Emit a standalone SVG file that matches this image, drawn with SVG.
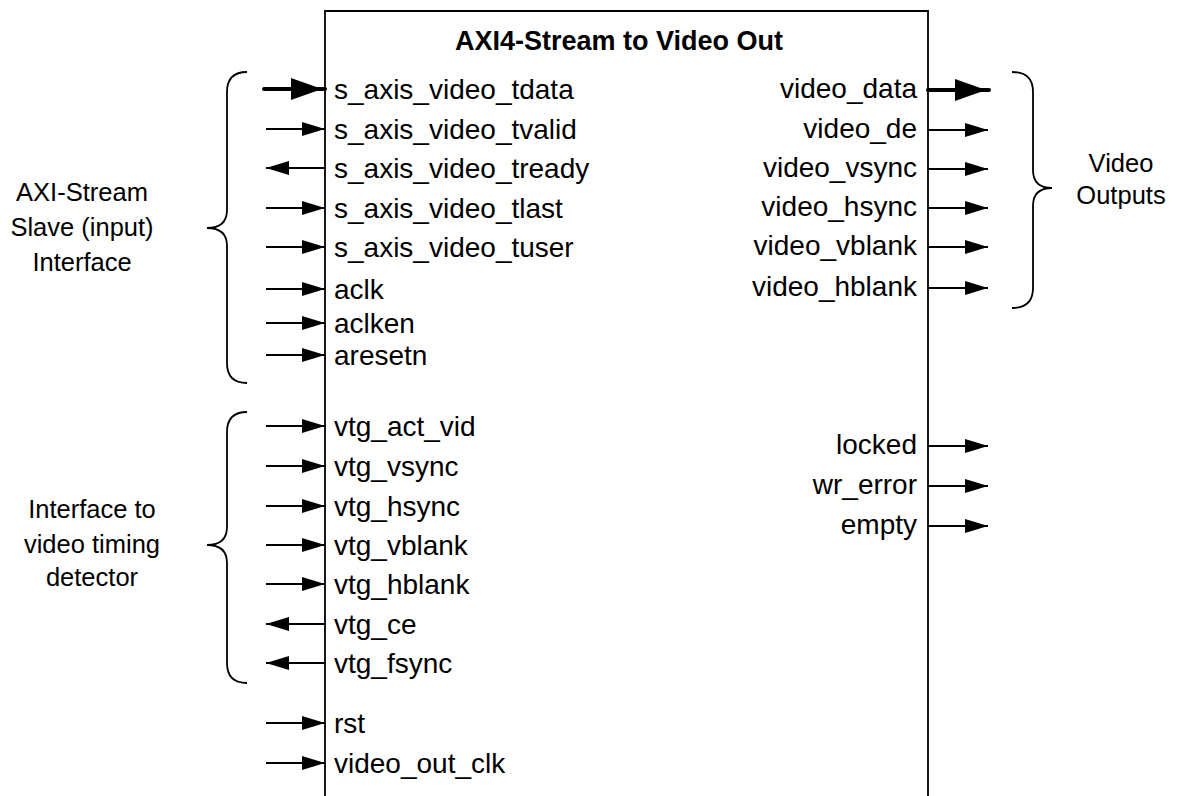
<svg xmlns="http://www.w3.org/2000/svg" width="1187" height="796" viewBox="0 0 1187 796">
<style>
  .port{font-family:"Liberation Sans",Arial,sans-serif;font-size:28px;fill:#000}
  .r{text-anchor:end}
  .lbl{font-family:"Liberation Sans",Arial,sans-serif;font-size:25.5px;fill:#000;text-anchor:middle}
  .title{font-family:"Liberation Sans",Arial,sans-serif;font-size:27px;font-weight:bold;fill:#000;text-anchor:middle}
  .w{stroke:#000;stroke-width:1.8;fill:none}
  .bus{stroke:#000;stroke-width:4;fill:none;stroke-linecap:round}
  .brace{stroke:#000;stroke-width:1.8;fill:none}
</style>
<defs>
  <marker id="ah" markerUnits="userSpaceOnUse" viewBox="0 0 23 14" refX="23" refY="7" markerWidth="23" markerHeight="14" orient="auto">
    <path d="M0,0 L23,7 L0,14 z" fill="#000"/>
  </marker>
  <marker id="ahb" markerUnits="userSpaceOnUse" viewBox="0 0 34 22" refX="34" refY="11" markerWidth="34" markerHeight="22" orient="auto">
    <path d="M0,0 L31,11 L0,22 z" fill="#000"/>
  </marker>
</defs>
<rect width="1187" height="796" fill="#fff"/>

<g id="block">
  <path d="M325,800 L325,11 L928,11 L928,800" class="w"/>
  <text x="619" y="50" class="title">AXI4-Stream to Video Out</text>
</g>

<g id="connectors">
  <line x1="264" y1="89" x2="325" y2="89" class="bus" marker-end="url(#ahb)"/>
  <line x1="266" y1="129" x2="325" y2="129" class="w" marker-end="url(#ah)"/>
  <line x1="325" y1="168" x2="266" y2="168" class="w" marker-end="url(#ah)"/>
  <line x1="266" y1="208" x2="325" y2="208" class="w" marker-end="url(#ah)"/>
  <line x1="266" y1="247" x2="325" y2="247" class="w" marker-end="url(#ah)"/>
  <line x1="266" y1="289" x2="325" y2="289" class="w" marker-end="url(#ah)"/>
  <line x1="266" y1="323" x2="325" y2="323" class="w" marker-end="url(#ah)"/>
  <line x1="266" y1="355" x2="325" y2="355" class="w" marker-end="url(#ah)"/>
  <line x1="266" y1="426" x2="325" y2="426" class="w" marker-end="url(#ah)"/>
  <line x1="266" y1="466" x2="325" y2="466" class="w" marker-end="url(#ah)"/>
  <line x1="266" y1="506" x2="325" y2="506" class="w" marker-end="url(#ah)"/>
  <line x1="266" y1="545" x2="325" y2="545" class="w" marker-end="url(#ah)"/>
  <line x1="266" y1="584" x2="325" y2="584" class="w" marker-end="url(#ah)"/>
  <line x1="325" y1="624" x2="266" y2="624" class="w" marker-end="url(#ah)"/>
  <line x1="325" y1="663" x2="266" y2="663" class="w" marker-end="url(#ah)"/>
  <line x1="266" y1="723" x2="325" y2="723" class="w" marker-end="url(#ah)"/>
  <line x1="266" y1="763" x2="325" y2="763" class="w" marker-end="url(#ah)"/>

  <line x1="928" y1="90" x2="989" y2="90" class="bus" marker-end="url(#ahb)"/>
  <line x1="928" y1="130" x2="988" y2="130" class="w" marker-end="url(#ah)"/>
  <line x1="928" y1="169" x2="988" y2="169" class="w" marker-end="url(#ah)"/>
  <line x1="928" y1="208" x2="988" y2="208" class="w" marker-end="url(#ah)"/>
  <line x1="928" y1="247" x2="988" y2="247" class="w" marker-end="url(#ah)"/>
  <line x1="928" y1="288" x2="988" y2="288" class="w" marker-end="url(#ah)"/>
  <line x1="928" y1="446" x2="988" y2="446" class="w" marker-end="url(#ah)"/>
  <line x1="928" y1="486" x2="988" y2="486" class="w" marker-end="url(#ah)"/>
  <line x1="928" y1="526" x2="988" y2="526" class="w" marker-end="url(#ah)"/>
</g>

<g id="ports-left">
  <text x="334" y="99" class="port">s_axis_video_tdata</text>
  <text x="334" y="139" class="port">s_axis_video_tvalid</text>
  <text x="334" y="178" class="port">s_axis_video_tready</text>
  <text x="334" y="218" class="port">s_axis_video_tlast</text>
  <text x="334" y="257" class="port">s_axis_video_tuser</text>
  <text x="334" y="299" class="port">aclk</text>
  <text x="334" y="333" class="port">aclken</text>
  <text x="334" y="365" class="port">aresetn</text>
  <text x="334" y="436" class="port">vtg_act_vid</text>
  <text x="334" y="476" class="port">vtg_vsync</text>
  <text x="334" y="516" class="port">vtg_hsync</text>
  <text x="334" y="555" class="port">vtg_vblank</text>
  <text x="334" y="594" class="port">vtg_hblank</text>
  <text x="334" y="634" class="port">vtg_ce</text>
  <text x="334" y="673" class="port">vtg_fsync</text>
  <text x="334" y="733" class="port">rst</text>
  <text x="334" y="773" class="port">video_out_clk</text>
</g>

<g id="ports-right">
  <text x="917" y="98" class="port r">video_data</text>
  <text x="917" y="138" class="port r">video_de</text>
  <text x="917" y="177" class="port r">video_vsync</text>
  <text x="917" y="216" class="port r">video_hsync</text>
  <text x="917" y="255" class="port r">video_vblank</text>
  <text x="917" y="296" class="port r">video_hblank</text>
  <text x="917" y="454" class="port r">locked</text>
  <text x="917" y="494" class="port r">wr_error</text>
  <text x="917" y="534" class="port r">empty</text>
</g>

<g id="group-axis">
  <path class="brace" d="M247,72 Q227,72 227,92 L227,210 Q227,228 207,228 Q227,228 227,246 L227,363 Q227,383 247,383"/>
  <text x="82" y="201" class="lbl">AXI-Stream</text>
  <text x="82" y="236" class="lbl">Slave (input)</text>
  <text x="82" y="271" class="lbl">Interface</text>
</g>

<g id="group-vtg">
  <path class="brace" d="M247,412 Q227,412 227,432 L227,527 Q227,545 207,545 Q227,545 227,563 L227,663 Q227,683 247,683"/>
  <text x="92" y="518" class="lbl">Interface to</text>
  <text x="92" y="553" class="lbl">video timing</text>
  <text x="92" y="586" class="lbl">detector</text>
</g>

<g id="group-video">
  <path class="brace" d="M1012,72 Q1033,72 1033,92 L1033,170 Q1033,188 1052,188 Q1033,188 1033,206 L1033,288 Q1033,308 1012,308"/>
  <text x="1121" y="172" class="lbl">Video</text>
  <text x="1121" y="204" class="lbl">Outputs</text>
</g>
</svg>
